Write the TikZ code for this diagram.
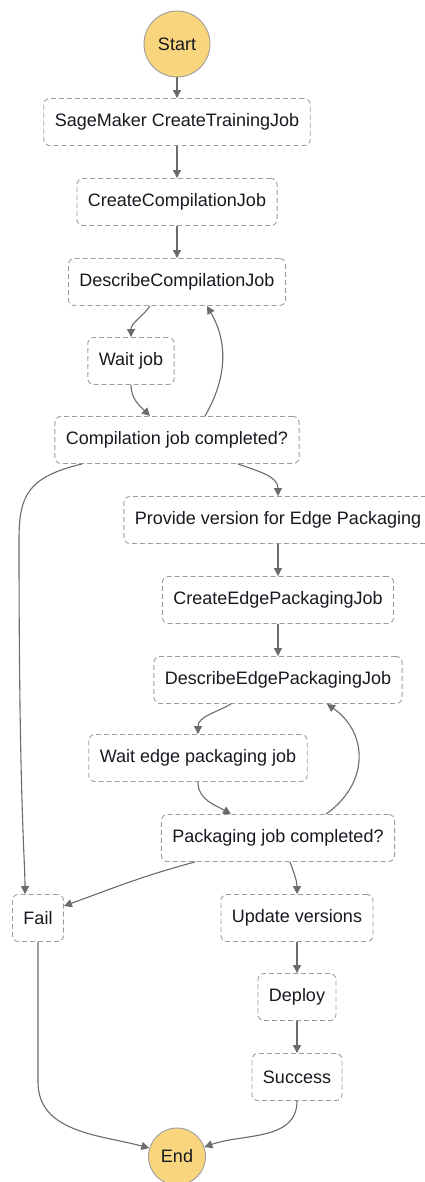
\documentclass[tikz,border=0pt]{standalone}
\usepackage{fontspec}
\setmainfont{Liberation Sans}
\usetikzlibrary{arrows.meta,positioning}
\definecolor{edgegray}{HTML}{6B6B6B}
\definecolor{boxgray}{HTML}{9C9C9C}
\definecolor{termfill}{HTML}{F9D67D}
\definecolor{ink}{HTML}{16191F}
\tikzset{
  state/.style={draw=boxgray, dash pattern=on 5pt off 3pt, line width=0.9pt,
    rounded corners=6pt, minimum height=47pt, inner xsep=11pt,
    text=ink, font=\fontsize{18}{21}\selectfont},
  terminal/.style={circle, draw=boxgray, line width=0.9pt, fill=termfill,
    inner sep=0pt, text=ink, font=\fontsize{18}{21}\selectfont},
  flow/.style={draw=edgegray, line width=1.1pt,
    -{Triangle[length=8pt,width=8pt]}}
}

\begin{document}
\begin{tikzpicture}[x=1pt,y=1pt]
\useasboundingbox (0,0) rectangle (425,-1182);

% start and end
\node[terminal, minimum size=66pt] (start) at (177,-44) {Start};
\node[terminal, minimum size=57pt] (end) at (177,-1156.5) {End};

% compilation part
\node[state] (sct) at (177,-122) {SageMaker CreateTrainingJob};
\node[state] (ccj) at (177,-202) {CreateCompilationJob};
\node[state] (dcj) at (177,-282) {DescribeCompilationJob};
\node[state] (wj) at (131,-361) {Wait job};
\node[state] (cjc) at (177,-440) {Compilation job completed?};

% edge packaging part
\node[state] (pv) at (278,-520) {Provide version for Edge Packaging};
\node[state] (cepj) at (278,-600) {CreateEdgePackagingJob};
\node[state] (depj) at (278,-680) {DescribeEdgePackagingJob};
\node[state] (wepj) at (198,-758) {Wait edge packaging job};
\node[state] (pjc) at (278,-838) {Packaging job completed?};

% final states
\node[state] (fail) at (38,-918) {Fail};
\node[state] (uv) at (297,-918) {Update versions};
\node[state] (deploy) at (297,-997) {Deploy};
\node[state] (success) at (297,-1077) {Success};

% connectors
\draw[flow] (start) -- (sct);
\draw[flow] (sct) -- (ccj);
\draw[flow] (ccj) -- (dcj);
\draw[flow] ([xshift=-27pt]dcj.south) to[out=-125,in=90] (wj.north);
\draw[flow] (wj.south) to[out=-90,in=135] ([xshift=-27pt]cjc.north);
\draw[flow] ([xshift=28pt]cjc.north) to[out=60,in=-60] ([xshift=30pt]dcj.south);
\draw[flow] ([xshift=-95pt]cjc.south) .. controls (28,-477) and (19,-495) .. (19,-540)
  .. controls (19,-800) and (25,-860) .. ([xshift=-13pt]fail.north);
\draw[flow] ([xshift=61pt]cjc.south) to[out=-20,in=90] (pv.north);
\draw[flow] (pv) -- (cepj);
\draw[flow] (cepj) -- (depj);
\draw[flow] ([xshift=-47pt]depj.south) to[out=-150,in=90] (wepj.north);
\draw[flow] (wepj.south) to[out=-90,in=150] ([xshift=-47pt]pjc.north);
\draw[flow] ([xshift=48pt]pjc.north) to[out=35,in=-35,looseness=1.2] ([xshift=49pt]depj.south);
\draw[flow] ([xshift=-83pt]pjc.south) to[out=-165,in=20] ([yshift=12pt]fail.east);
\draw[flow] ([xshift=12pt]pjc.south) to[out=-70,in=90] (uv.north);
\draw[flow] (uv) -- (deploy);
\draw[flow] (deploy) -- (success);
\draw[flow] (fail.south) -- ++(0,-140) to[out=-90,in=165] (end.163);
\draw[flow] (success.south) to[out=-90,in=20] (end.19);

\end{tikzpicture}
\end{document}
